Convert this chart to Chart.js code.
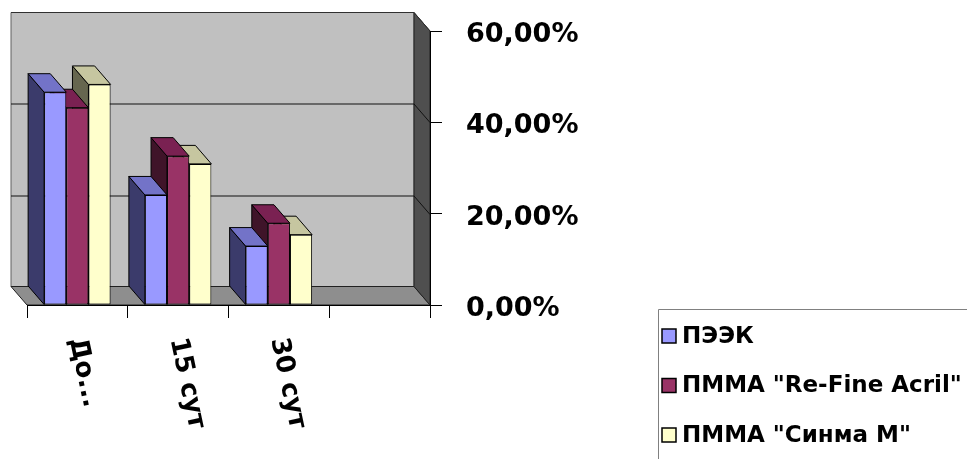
<!doctype html>
<html lang="ru">
<head>
<meta charset="utf-8">
<title>3D columns</title>
<script src="https://cdn.jsdelivr.net/npm/chart.js"></script>
<style>
  html, body { margin: 0; padding: 0; background: #fff; }
  #wrap { width: 967px; height: 459px; }
</style>
</head>
<body>
<div id="wrap"><canvas id="chart" width="967" height="459"></canvas></div>
<script>
  // ---- data ----
  const categories = ['До...', '15 сут', '30 сут', '']
  const seriesNames = ['ПЭЭК', 'ПММА "Re-Fine Acril"', 'ПММА "Синма М"']
  const peek = [46.6, 24.1, 12.9, null]
  const pmmaRefine = [43.2, 32.6, 17.9, null]
  const pmmaSinma = [48.3, 30.9, 15.4, null]
  const yMin = 0, yMax = 60, yStep = 20

  // depth of the fake 3d box (pixels)
  const DX = -16, DY = -18.5
  const FONT = '"DejaVu Sans", sans-serif'

  const faces = [
    { front: '#9999FF', side: '#3B3B6B', top: '#7373C8' },
    { front: '#993366', side: '#3F1429', top: '#7A2152' },
    { front: '#FFFFCC', side: '#66664F', top: '#C6C6A0' }
  ]

  const fmtPct = v => v.toFixed(2).replace('.', ',') + '%'

  const poly = (ctx, pts, fill, stroke) => {
    ctx.beginPath()
    ctx.moveTo(pts[0][0], pts[0][1])
    for (let i = 1; i < pts.length; i++) ctx.lineTo(pts[i][0], pts[i][1])
    ctx.closePath()
    if (fill) { ctx.fillStyle = fill; ctx.fill() }
    if (stroke) { ctx.strokeStyle = stroke; ctx.lineWidth = 1; ctx.stroke() }
  }

  const box3d = {
    id: 'box3d',
    beforeDraw(chart) {
      const { ctx, chartArea: a } = chart
      const ys = chart.scales.y
      ctx.save()
      // back wall
      poly(ctx, [[a.left + DX, a.top + DY], [a.right + DX, a.top + DY], [a.right + DX, a.bottom + DY], [a.left + DX, a.bottom + DY]], '#C0C0C0', '#606060')
      // floor
      poly(ctx, [[a.left, a.bottom], [a.right, a.bottom], [a.right + DX, a.bottom + DY], [a.left + DX, a.bottom + DY]], '#8E8E8E', '#202020')
      // right side wall
      poly(ctx, [[a.right + DX, a.top + DY], [a.right, a.top], [a.right, a.bottom], [a.right + DX, a.bottom + DY]], '#4F4F4F', '#202020')
      // grid lines on the back and side walls
      ctx.strokeStyle = '#111'
      ctx.lineWidth = 1
      for (let v = yMin + yStep; v < yMax; v += yStep) {
        const y = Math.round(ys.getPixelForValue(v)) + 0.5
        ctx.beginPath()
        ctx.moveTo(a.left + DX, y + DY)
        ctx.lineTo(a.right + DX, y + DY)
        ctx.lineTo(a.right, y)
        ctx.stroke()
      }
      // top edge of the wall
      ctx.strokeStyle = '#303030'
      ctx.beginPath()
      ctx.moveTo(a.left + DX, a.top + DY)
      ctx.lineTo(a.right + DX, a.top + DY)
      ctx.lineTo(a.right, a.top)
      ctx.stroke()
      ctx.restore()
    },
    beforeDatasetsDraw(chart) {
      const { ctx } = chart
      ctx.save()
      ctx.lineWidth = 1
      // back-most first: right bar of a cluster is hidden by the left one
      for (let d = chart.data.datasets.length - 1; d >= 0; d--) {
        const meta = chart.getDatasetMeta(d)
        const f = faces[d]
        meta.data.forEach((bar, i) => {
          if (chart.data.datasets[d].data[i] == null) return
          const p = bar.getProps(['x', 'y', 'base', 'width'], true)
          const l = p.x - p.width / 2, r = p.x + p.width / 2
          poly(ctx, [[l, p.y], [l + DX, p.y + DY], [l + DX, p.base + DY], [l, p.base]], f.side, '#000')
          poly(ctx, [[l, p.y], [r, p.y], [r + DX, p.y + DY], [l + DX, p.y + DY]], f.top, '#000')
        })
      }
      ctx.restore()
    },
    afterDraw(chart) {
      const { ctx } = chart
      const xs = chart.scales.x
      ctx.save()
      // rotated category labels
      ctx.fillStyle = '#000'
      ctx.font = 'bold 26px ' + FONT
      ctx.textAlign = 'left'
      ctx.textBaseline = 'middle'
      categories.forEach((c, i) => {
        if (!c) return
        ctx.save()
        ctx.translate(xs.getPixelForValue(i) - 1, 338)
        ctx.rotate(78 * Math.PI / 180)
        ctx.fillText(c, 0, 0)
        ctx.restore()
      })
      // legend box
      ctx.strokeStyle = '#808080'
      ctx.lineWidth = 1
      ctx.beginPath()
      ctx.moveTo(658.5, 470)
      ctx.lineTo(658.5, 309.5)
      ctx.lineTo(980, 309.5)
      ctx.stroke()
      ctx.font = 'bold 23px ' + FONT
      ctx.textBaseline = 'middle'
      seriesNames.forEach((name, i) => {
        const y = 336 + i * 49.5
        ctx.fillStyle = faces[i].front
        ctx.fillRect(662, y - 7, 14, 14)
        ctx.strokeStyle = '#000'
        ctx.lineWidth = 1.5
        ctx.strokeRect(662, y - 7, 14, 14)
        ctx.fillStyle = '#000'
        ctx.fillText(name, 682, y + 1)
      })
      ctx.restore()
    }
  }

  const mkSet = (label, data, i) => ({
    label: label,
    data: data,
    backgroundColor: faces[i].front,
    borderColor: '#000',
    borderWidth: 1,
    borderSkipped: false
  })

  new Chart(document.getElementById('chart'), {
    type: 'bar',
    data: {
      labels: categories,
      datasets: [
        mkSet(seriesNames[0], peek, 0),
        mkSet(seriesNames[1], pmmaRefine, 1),
        mkSet(seriesNames[2], pmmaSinma, 2)
      ]
    },
    options: {
      responsive: false,
      animation: false,
      layout: { padding: { left: 27, top: 31, right: 0, bottom: 0 } },
      datasets: { bar: { categoryPercentage: 0.66, barPercentage: 1.0 } },
      plugins: { legend: { display: false }, tooltip: { enabled: false } },
      scales: {
        x: {
          offset: true,
          ticks: { display: false },
          grid: { offset: true, drawOnChartArea: false, drawTicks: true, tickLength: 13, color: '#000' },
          border: { display: true, color: '#000', width: 1 },
          afterFit: s => { s.height = 154; s.paddingLeft = 0; s.paddingRight = 0 }
        },
        y: {
          position: 'right',
          min: yMin,
          max: yMax,
          ticks: {
            stepSize: yStep,
            padding: 24,
            labelOffset: 4,
            color: '#000',
            font: { family: FONT, size: 27, weight: 'bold' },
            callback: v => fmtPct(v)
          },
          grid: { drawOnChartArea: false, drawTicks: true, tickLength: 12, color: '#000' },
          border: { display: true, color: '#000', width: 1 },
          afterFit: s => { s.width = 537; s.paddingTop = 0; s.paddingBottom = 0 }
        }
      }
    },
    plugins: [box3d]
  })
</script>
</body>
</html>
